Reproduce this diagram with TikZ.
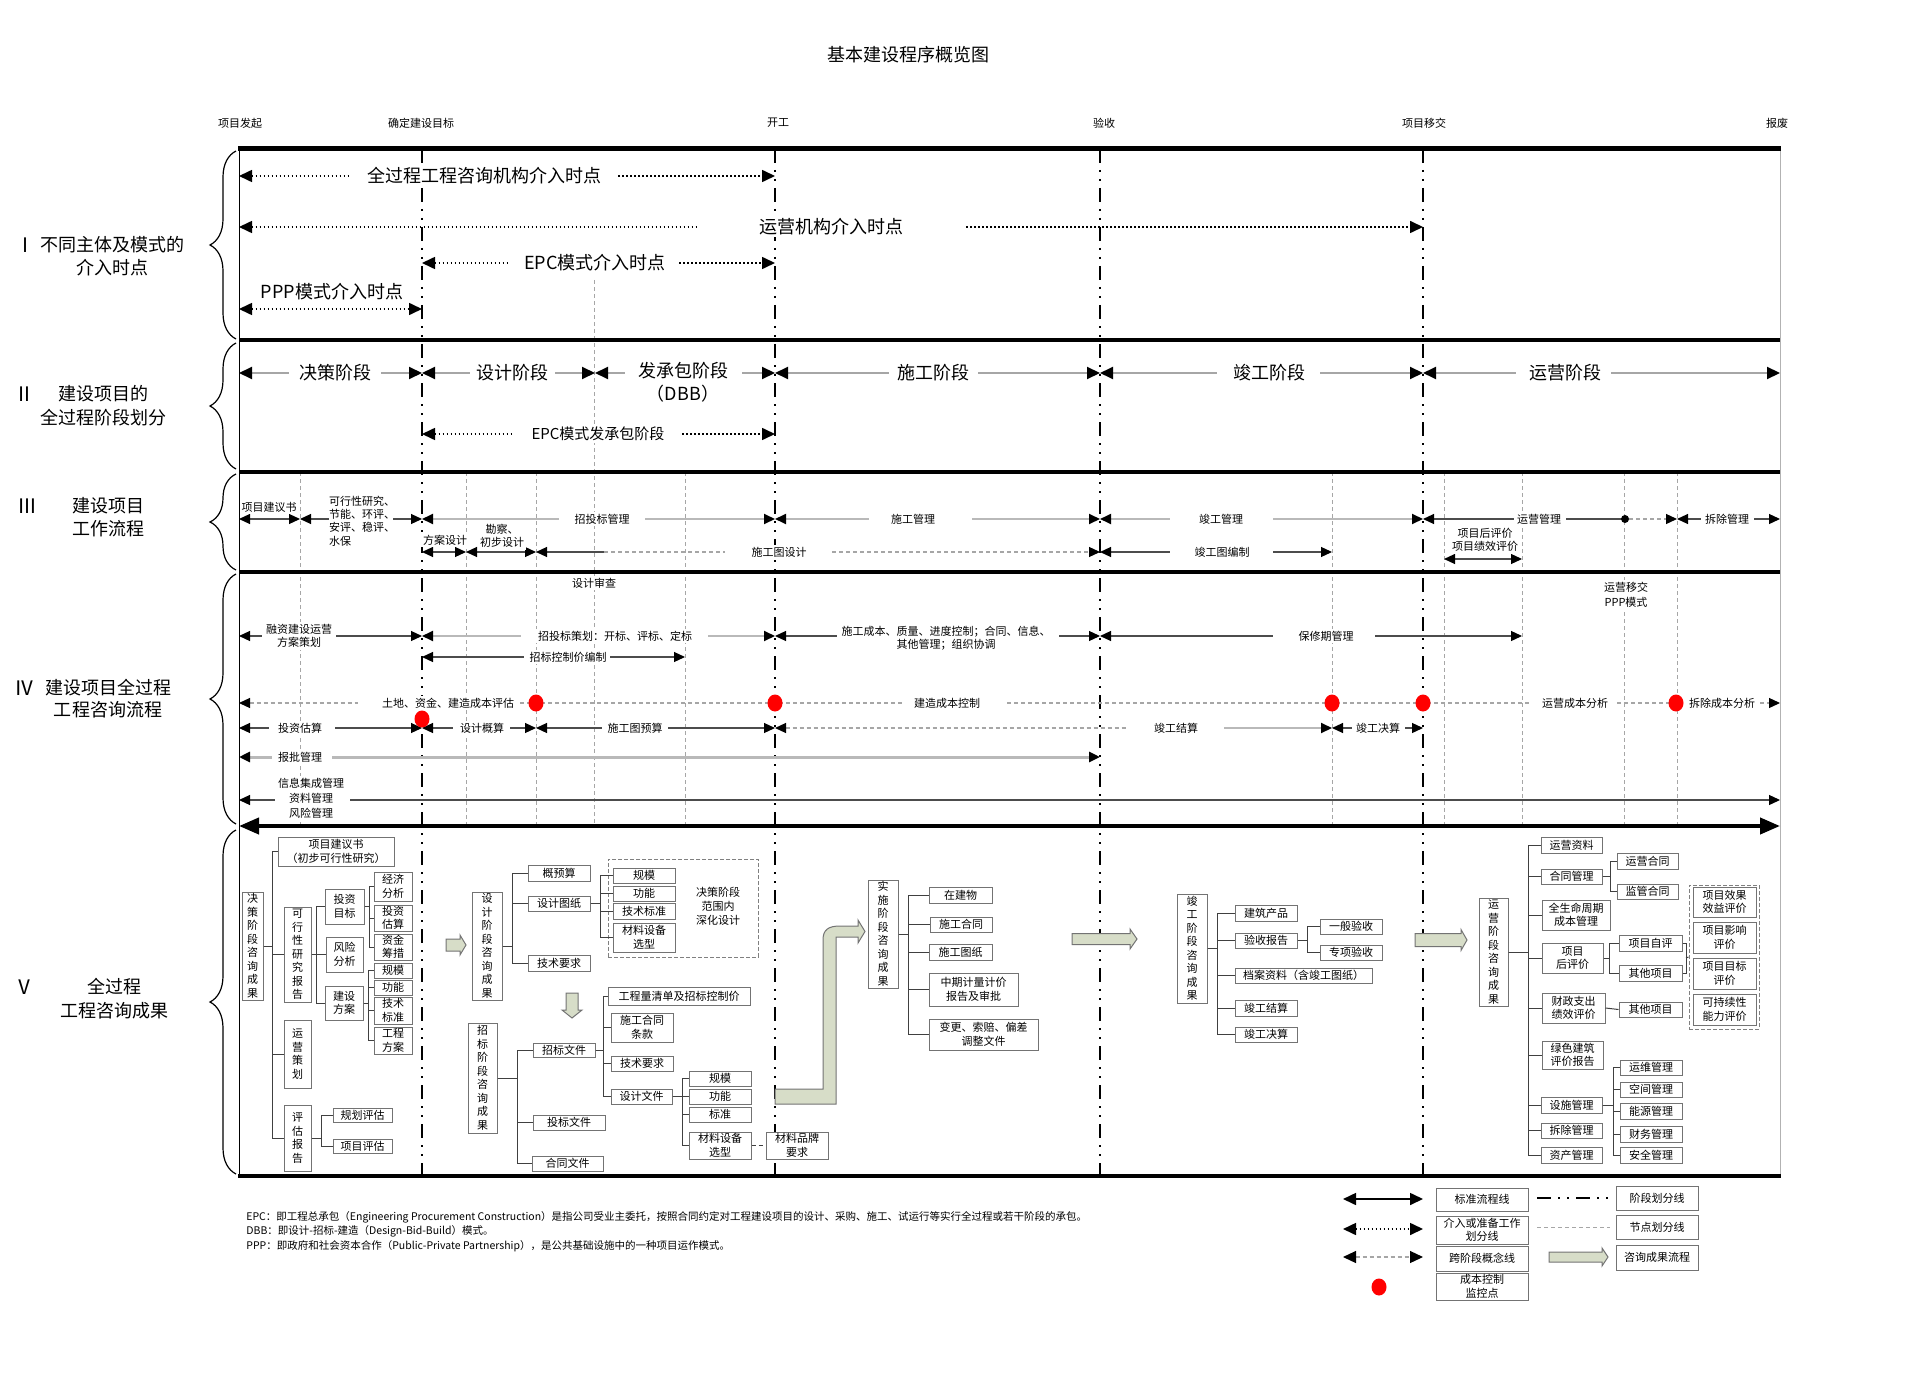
\documentclass[tikz,border=0pt]{standalone}
\usepackage{fontspec}
\setmainfont{Noto Sans CJK SC}
\usetikzlibrary{arrows.meta,shapes.geometric,decorations.pathreplacing}
\definecolor{arrowfill}{RGB}{215,221,200}
\newcommand\fA{\fontsize{9}{11}\selectfont}
\newcommand\fB{\fontsize{7.5}{9}\selectfont}
\newcommand\fC{\fontsize{5.5}{6.6}\selectfont}
\newcommand\fD{\fontsize{5.5}{6.75}\selectfont}
\newcommand\fE{\fontsize{5.25}{7}\selectfont}
\newcommand\gl[8]{\draw[#1,#2-] (#4,#8) -- (#5,#8); \draw[#1,-#3] (#6,#8) -- (#7,#8);}
\newcommand\bx[6]{\node[box,minimum width={0.5pt*(#4-#2)},minimum height={0.5pt*(#5-#3)}] (#1) at ({(#2+#4)/2},{(#3+#5)/2}) {#6};}
\newcommand\rarr[6]{\draw[blk] (#1,{#3-#4}) -- ({#2-#6},{#3-#4}) -- ({#2-#6},{#3-#5}) -- (#2,#3) -- ({#2-#6},{#3+#5}) -- ({#2-#6},{#3+#4}) -- (#1,{#3+#4}) -- cycle;}
\tikzset{
 ST/.tip={Triangle[length=5.5pt,width=5pt,color=black,fill=black]},
 BT/.tip={Triangle[length=6.5pt,width=6pt,color=black,fill=black]},
 HT/.tip={Triangle[length=10pt,width=8pt,color=black,fill=black]},
 ms/.style={line width=1pt, dash pattern=on 7pt off 3.5pt on 1pt off 3.5pt on 1pt off 3.5pt},
 nd/.style={gray!70, line width=0.45pt, dash pattern=on 2pt off 1.5pt},
 dotl/.style={line width=0.8pt, dash pattern=on 0.8pt off 1.2pt},
 glI/.style={gray!70, line width=1pt},
 dk/.style={black!70, line width=0.6pt},
 lt/.style={gray!55, line width=0.9pt},
 dsh/.style={gray!70, line width=0.6pt, dash pattern=on 2pt off 1.5pt},
 lab/.style={fill=white, inner sep=1pt, align=center},
 tA/.style={lab, font=\fA},
 tB/.style={lab, font=\fB},
 tC/.style={lab, font=\fC},
 box/.style={draw=black!55, line width=0.5pt, fill=white, align=center, inner sep=0pt, font=\fD},
 dbox/.style={draw=black!50, line width=0.5pt, dash pattern=on 2pt off 1pt, inner sep=0pt},
 tr/.style={black!75, line width=0.5pt},
 blk/.style={fill=arrowfill, draw=black!55, line width=0.5pt},
 rdot/.style={ellipse, fill=red, inner sep=0pt, minimum width=7.5pt, minimum height=8.5pt},
 brc/.style={decorate, decoration={brace, amplitude=13pt, aspect=0.5}, line width=0.6pt},
}
\begin{document}
\begin{tikzpicture}[x=0.5pt,y=-0.5pt]
\useasboundingbox (0,0) rectangle (1920,1385);
% title and milestones
\node[font=\fA] (title) at (908,55) {基本建设程序概览图};
\foreach \n/\x/\t in {m0/240/项目发起, m1/421/确定建设目标, m2/778/开工, m3/1104/验收, m4/1424/项目移交, m5/1777/报废}
  \node[font=\fC] (\n) at (\x,123) {\t};
% milestone lines and node lines
\foreach \x in {422,775,1100,1423} \draw[ms] (\x,149) -- (\x,1176);
\foreach \x in {300,466,536,685,1332,1444,1522,1624,1677} \draw[nd] (\x,472) -- (\x,826);
\draw[nd] (594,280) -- (594,826);
% frame
\draw[line width=0.5pt] (239,149) -- (239,1176);
\draw[gray!60, line width=0.5pt] (1780,149) -- (1780,1176);
\draw[line width=2.5pt] (238,149) -- (1781,149);
\foreach \y in {340,472,572} \draw[line width=2pt] (239,\y) -- (1780,\y);
\draw[line width=2pt] (238,1176) -- (1781,1176);
\draw[line width=2pt, HT-HT] (239,826) -- (1780,826);
% braces
\draw[brc] (236,339) -- (236,151);
\draw[brc] (236,469) -- (236,343);
\draw[brc] (236,570) -- (236,474);
\draw[brc] (236,824) -- (236,574);
\draw[brc] (236,1174) -- (236,830);
% section labels
\node[font=\fontsize{10}{11}\selectfont] (r1) at (25,245) {Ⅰ};
\node[font=\fA] (s1a) at (112,245) {不同主体及模式的};
\node[font=\fA] (s1b) at (112,268) {介入时点};
\node[font=\fontsize{10}{11}\selectfont] (r2) at (24,394) {Ⅱ};
\node[font=\fA] (s2a) at (103,394) {建设项目的};
\node[font=\fA] (s2b) at (103,418) {全过程阶段划分};
\node[font=\fontsize{10}{11}\selectfont] (r3) at (28,506) {Ⅲ};
\node[font=\fA] (s3a) at (108,506) {建设项目};
\node[font=\fA] (s3b) at (108,529) {工作流程};
\node[font=\fontsize{10}{11}\selectfont] (r4) at (24,688) {Ⅳ};
\node[font=\fA] (s4a) at (108,688) {建设项目全过程};
\node[font=\fA] (s4b) at (108,710) {工程咨询流程};
\node[font=\fontsize{10}{11}\selectfont] (r5) at (24,987) {Ⅴ};
\node[font=\fA] (s5a) at (114,987) {全过程};
\node[font=\fA] (s5b) at (114,1011) {工程咨询成果};
% ===== Section I
\gl{dotl}{BT}{BT}{239}{350}{618}{775}{176}
\node[tA] (a1) at (484,176) {全过程工程咨询机构介入时点};
\gl{dotl}{BT}{BT}{239}{697}{966}{1423}{227}
\node[tA] (a2) at (831,227) {运营机构介入时点};
\gl{dotl}{BT}{BT}{422}{507}{679}{775}{263}
\node[tA] (a3) at (595,263) {EPC模式介入时点};
\draw[dotl,BT-BT] (239,309) -- (422,309);
\node[tA] (a4) at (332,292) {PPP模式介入时点};
% ===== Section II
\gl{glI}{BT}{BT}{239}{289}{381}{422}{373}
\node[tA] (b1) at (335,373) {决策阶段};
\gl{glI}{BT}{BT}{422}{470}{555}{595}{373}
\node[tA] (b2) at (512,373) {设计阶段};
\gl{glI}{BT}{BT}{595}{625}{742}{775}{373}
\node[tA] (b3) at (683,371) {发承包阶段};
\node[tA] (b3b) at (683,394) {（DBB）};
\gl{glI}{BT}{BT}{775}{889}{978}{1100}{373}
\node[tA] (b4) at (933,373) {施工阶段};
\gl{glI}{BT}{BT}{1100}{1217}{1320}{1423}{373}
\node[tA] (b5) at (1269,373) {竣工阶段};
\gl{glI}{BT}{BT}{1423}{1516}{1611}{1780}{373}
\node[tA] (b6) at (1565,373) {运营阶段};
\gl{dotl}{BT}{BT}{422}{513}{682}{775}{434}
\node[tB] (b7) at (598,434) {EPC模式发承包阶段};
% ===== Section III
\draw[dk,ST-ST] (239,519) -- (300,519);
\node[tC] (c1) at (269,507) {项目建议书};
\gl{dk}{ST}{ST}{300}{329}{393}{422}{519}
\node[font=\fC, align=left, inner sep=0pt] (c2) at (362,521) {可行性研究、\\节能、环评、\\安评、稳评、\\水保};
\gl{lt}{ST}{ST}{422}{559}{645}{775}{519}
\node[tC] (c3) at (602,519) {招投标管理};
\gl{lt}{ST}{ST}{775}{869}{972}{1100}{519}
\node[tC] (c4) at (913,519) {施工管理};
\gl{lt}{ST}{ST}{1100}{1170}{1273}{1423}{519}
\node[tC] (c5) at (1221,519) {竣工管理};
\gl{dk}{ST}{}{1423}{1514}{1566}{1625}{519}
\node[tC] (c6) at (1539,519) {运营管理};
\node[circle, fill=black, inner sep=0pt, minimum size=4pt] (bd) at (1625,519) {};
\draw[dsh,-ST] (bd) -- (1677,519);
\gl{dk}{ST}{ST}{1677}{1701}{1754}{1780}{519}
\node[tC] (c7) at (1727,519) {拆除管理};
\draw[dk,ST-ST] (422,552) -- (466,552);
\node[tC] (c8) at (445,540) {方案设计};
\draw[dk,ST-ST] (466,552) -- (536,552);
\node[tC] (c9) at (502,536) {勘察、\\初步设计};
\draw[dk,ST-] (536,552) -- (604,552);
\draw[dsh] (604,552) -- (725,552);
\draw[dsh,-ST] (832,552) -- (1100,552);
\node[tC] (c10) at (779,552) {施工图设计};
\gl{dk}{ST}{ST}{1100}{1170}{1273}{1332}{552}
\node[tC] (c11) at (1222,552) {竣工图编制};
\draw[dk,ST-ST] (1444,559) -- (1522,559);
\node[tC] (c12) at (1485,540) {项目后评价\\项目绩效评价};
% ===== Section IV
\node[tC] (d0) at (594,583) {设计审查};
\node[tC, font=\fontsize{5.5}{7.5}\selectfont] (d00) at (1626,595) {运营移交\\PPP模式};
\gl{dk}{ST}{ST}{239}{262}{336}{422}{636}
\node[tC] (d1) at (299,636) {融资建设运营\\方案策划};
\gl{lt}{ST}{ST}{422}{521}{708}{775}{636}
\node[tC] (d2) at (615,636) {招投标策划：开标、评标、定标};
\gl{dk}{ST}{ST}{775}{837}{1059}{1100}{636}
\node[tC] (d3) at (946,638) {施工成本、质量、进度控制；合同、信息、\\其他管理；组织协调};
\gl{dk}{ST}{ST}{1100}{1273}{1375}{1522}{636}
\node[tC] (d4) at (1326,636) {保修期管理};
\gl{dk}{ST}{ST}{422}{524}{610}{685}{657}
\node[tC] (d5) at (568,657) {招标控制价编制};
\draw[dsh,ST-] (239,703) -- (358,703);
\draw[dsh] (520,703) -- (903,703);
\draw[dsh] (1007,703) -- (1530,703);
\draw[dsh] (1617,703) -- (1683,703);
\draw[dsh,-ST] (1760,703) -- (1780,703);
\node[tC] (d6) at (448,703) {土地、资金、建造成本评估};
\node[tC] (d7) at (947,703) {建造成本控制};
\node[tC] (d8) at (1575,703) {运营成本分析};
\node[tC] (d9) at (1722,703) {拆除成本分析};
\gl{dk}{ST}{ST}{239}{269}{335}{422}{728}
\node[tC] (d10) at (300,728) {投资估算};
\gl{dk}{ST}{ST}{422}{453}{510}{536}{728}
\node[tC] (d11) at (482,728) {设计概算};
\gl{dk}{ST}{ST}{536}{602}{668}{775}{728}
\node[tC] (d12) at (635,728) {施工图预算};
\draw[dsh,ST-] (775,728) -- (1128,728);
\draw[lt,-ST] (1224,728) -- (1332,728);
\node[tC] (d13) at (1176,728) {竣工结算};
\gl{dk}{ST}{ST}{1332}{1352}{1405}{1423}{728}
\node[tC] (d14) at (1378,728) {竣工决算};
\gl{lt,line width=1.5pt}{ST}{ST}{239}{272}{332}{1100}{757}
\node[tC] (d15) at (300,757) {报批管理};
\gl{dk}{ST}{ST}{239}{275}{350}{1780}{800}
\node[tC, font=\fontsize{5.5}{7.5}\selectfont] (d16) at (311,798) {信息集成管理\\资料管理\\风险管理};
\foreach \n/\x/\y in {rd1/536/703, rd2/775/703, rd3/1332/703, rd4/1423/703, rd5/1676/703, rd6/422/719}
  \node[rdot] (\n) at (\x,\y) {};
% ===== Section V : decision
\bx{jc}{242}{892}{263}{1000}{决\\策\\阶\\段\\咨\\询\\成\\果}
\bx{jyb}{278}{837}{394}{866}{项目建议书\\（初步可行性研究）}
\bx{kx}{284}{907}{311}{1002}{可\\行\\性\\研\\究\\报\\告}
\bx{yych}{284}{1020}{311}{1088}{运\\营\\策\\划}
\bx{pgbg}{284}{1105}{311}{1171}{评\\估\\报\\告}
\bx{tzmb}{325}{889}{364}{924}{投资\\目标}
\bx{fxfx}{326}{937}{363}{972}{风险\\分析}
\bx{jsfa}{325}{986}{363}{1020}{建设\\方案}
\bx{jjfx}{374}{872}{412}{901}{经济\\分析}
\bx{tzgs}{374}{905}{412}{931}{投资\\估算}
\bx{zjcc}{374}{934}{412}{960}{资金\\筹措}
\bx{gmA}{374}{963}{412}{978}{规模}
\bx{gnA}{374}{980}{412}{995}{功能}
\bx{jsbzA}{374}{997}{412}{1024}{技术\\标准}
\bx{gcfa}{374}{1027}{412}{1054}{工程\\方案}
\bx{ghpg}{333}{1108}{392}{1122}{规划评估}
\bx{xmpg}{333}{1139}{392}{1153}{项目评估}
\foreach \c in {jyb,kx,yych,pgbg} \draw[tr] (jc.east) -- ++(9,0) |- (\c.west);
\foreach \c in {tzmb,fxfx,jsfa} \draw[tr] (kx.east) -- ++(5,0) |- (\c.west);
\foreach \c in {jjfx,tzgs,zjcc} \draw[tr] (tzmb.east) -- ++(5,0) |- (\c.west);
\foreach \c in {gmA,gnA,jsbzA,gcfa} \draw[tr] (jsfa.east) -- ++(5,0) |- (\c.west);
\foreach \c in {ghpg,xmpg} \draw[tr] (pgbg.east) -- ++(10,0) |- (\c.west);
% design
\draw[blk] (446,939) -- (460,939) -- (460,935) -- (466,945) -- (460,955) -- (460,951) -- (446,951) -- cycle;
\bx{sj}{472}{892}{502}{1000}{设\\计\\阶\\段\\咨\\询\\成\\果}
\node[dbox, minimum width=75pt, minimum height=49pt] (db1) at (683,908) {};
\bx{gys}{528}{865}{590}{881}{概预算}
\bx{sjtz}{528}{896}{590}{911}{设计图纸}
\bx{jsyqA}{528}{955}{590}{971}{技术要求}
\bx{gmB}{613}{868}{675}{883}{规模}
\bx{gnB}{613}{886}{675}{901}{功能}
\bx{jsbzB}{613}{903}{675}{919}{技术标准}
\bx{clsbA}{613}{923}{675}{952}{材料设备\\选型}
\node[font=\fontsize{5.5}{7}\selectfont, align=center] (shsj) at (718,906) {决策阶段\\范围内\\深化设计};
\foreach \c in {gys,sjtz,jsyqA} \draw[tr] (sj.east) -- ++(10,0) |- (\c.west);
\foreach \c in {gmB,gnB,jsbzB,clsbA} \draw[tr] (sjtz.east) -- ++(10,0) |- (\c.west);
% tender
\draw[blk] (566,993) -- (578,993) -- (578,1010) -- (582,1010) -- (572,1018) -- (562,1010) -- (566,1010) -- cycle;
\bx{zb}{468}{1023}{497}{1133}{招\\标\\阶\\段\\咨\\询\\成\\果}
\bx{zbwj}{533}{1043}{595}{1057}{招标文件}
\bx{tbwj}{533}{1115}{605}{1130}{投标文件}
\bx{htwj}{532}{1156}{603}{1171}{合同文件}
\bx{gcl}{608}{987}{750}{1005}{工程量清单及招标控制价}
\bx{sght}{611}{1013}{673}{1042}{施工合同\\条款}
\bx{jsyqB}{611}{1056}{673}{1071}{技术要求}
\bx{sjwj}{611}{1089}{672}{1104}{设计文件}
\bx{gmC}{689}{1071}{751}{1086}{规模}
\bx{gnC}{689}{1089}{751}{1104}{功能}
\bx{bzC}{689}{1107}{751}{1122}{标准}
\bx{clsbB}{689}{1132}{751}{1159}{材料设备\\选型}
\bx{clpp}{766}{1132}{828}{1159}{材料品牌\\要求}
\foreach \c in {zbwj,tbwj,htwj} \draw[tr] (zb.east) -- ++(20,0) |- (\c.west);
\foreach \c in {gcl,sght,jsyqB,sjwj} \draw[tr] (zbwj.east) -- ++(8,0) |- (\c.west);
\foreach \c in {gmC,gnC,bzC,clsbB} \draw[tr] (sjwj.east) -- ++(10,0) |- (\c.west);
\draw[tr, dash pattern=on 2pt off 1.5pt] (clsbB.east) -- (clpp.west);
% L arrow
\draw[blk] (775,1089) -- (823,1089) -- (823,940) .. controls (823,930) and (828,926) .. (840,926) -- (858,926) -- (858,920) -- (865,931.5) -- (858,943) -- (858,937) -- (836,937) -- (836,1104) -- (775,1104) -- cycle;
% implementation
\bx{ss}{868}{880}{898}{988}{实\\施\\阶\\段\\咨\\询\\成\\果}
\bx{zjw}{929}{887}{992}{903}{在建物}
\bx{sghtB}{930}{917}{992}{932}{施工合同}
\bx{sgtz}{929}{944}{992}{960}{施工图纸}
\bx{zqjl}{929}{973}{1018}{1006}{中期计量计价\\报告及审批}
\bx{bgsp}{929}{1019}{1038}{1050}{变更、索赔、偏差\\调整文件}
\foreach \c in {zjw,sghtB,sgtz,zqjl,bgsp} \draw[tr] (ss.east) -- ++(10,0) |- (\c.west);
\rarr{1072}{1137}{939}{5.5}{10}{7}
% completion
\bx{jg}{1177}{894}{1207}{1003}{竣\\工\\阶\\段\\咨\\询\\成\\果}
\bx{jzcp}{1235}{905}{1297}{921}{建筑产品}
\bx{ysbg}{1235}{933}{1297}{948}{验收报告}
\bx{ybys}{1320}{919}{1382}{934}{一般验收}
\bx{zxys}{1320}{945}{1382}{960}{专项验收}
\bx{dazl}{1235}{968}{1372}{983}{档案资料（含竣工图纸）}
\bx{jgjs}{1235}{1000}{1297}{1016}{竣工结算}
\bx{jgjsB}{1235}{1027}{1297}{1042}{竣工决算}
\foreach \c in {jzcp,ysbg,dazl,jgjs,jgjsB} \draw[tr] (jg.east) -- ++(10,0) |- (\c.west);
\foreach \c in {ybys,zxys} \draw[tr] (ysbg.east) -- ++(10,0) |- (\c.west);
\rarr{1415}{1467}{940}{6.5}{10.5}{6}
% operation
\bx{yyb}{1479}{898}{1508}{1006}{运\\营\\阶\\段\\咨\\询\\成\\果}
\node[dbox, minimum width=35pt, minimum height=72pt] (db2) at (1724,957) {};
\bx{yyzl}{1541}{837}{1602}{853}{运营资料}
\bx{htgl}{1541}{869}{1602}{884}{合同管理}
\bx{yyht}{1617}{853}{1678}{869}{运营合同}
\bx{jght}{1617}{884}{1678}{899}{监管合同}
\bx{qsm}{1542}{900}{1610}{930}{全生命周期\\成本管理}
\bx{xmhpj}{1542}{943}{1603}{973}{项目\\后评价}
\bx{xmzp}{1619}{935}{1682}{951}{项目自评}
\bx{qtxmA}{1619}{965}{1682}{981}{其他项目}
\bx{xmxg}{1693}{887}{1756}{917}{项目效果\\效益评价}
\bx{xmyx}{1693}{922}{1756}{953}{项目影响\\评价}
\bx{xmmb}{1693}{958}{1756}{989}{项目目标\\评价}
\bx{kcx}{1693}{994}{1756}{1025}{可持续性\\能力评价}
\bx{czzc}{1542}{993}{1605}{1023}{财政支出\\绩效评价}
\bx{qtxmB}{1619}{1002}{1682}{1017}{其他项目}
\bx{lsjz}{1542}{1041}{1603}{1069}{绿色建筑\\评价报告}
\bx{ssgl}{1541}{1097}{1602}{1113}{设施管理}
\bx{ccgl}{1541}{1123}{1602}{1138}{拆除管理}
\bx{zcgl}{1541}{1147}{1602}{1163}{资产管理}
\bx{ywgl}{1620}{1060}{1682}{1075}{运维管理}
\bx{kjgl}{1620}{1082}{1682}{1097}{空间管理}
\bx{nygl}{1620}{1103}{1682}{1119}{能源管理}
\bx{cwgl}{1620}{1126}{1682}{1142}{财务管理}
\bx{aqgl}{1620}{1147}{1682}{1163}{安全管理}
\foreach \c in {yyzl,htgl,qsm,xmhpj,czzc,lsjz,ssgl,ccgl,zcgl} \draw[tr] (yyb.east) -- ++(20,0) |- (\c.west);
\foreach \c in {yyht,jght} \draw[tr] (htgl.east) -- ++(8,0) |- (\c.west);
\foreach \c in {xmzp,qtxmA} \draw[tr] (xmhpj.east) -- ++(6,0) |- (\c.west);
\draw[tr] (czzc.east) -- (qtxmB.west);
\foreach \c in {ywgl,kjgl,nygl,cwgl,aqgl} \draw[tr] (ssgl.east) -- ++(11,0) |- (\c.west);
\draw[tr] (xmzp.east) -- ++(4,0) |- (qtxmA.east);
\draw[tr] (1686,958) -- (db2.west);
% ===== Legend
\bx{lg1}{1436}{1188}{1528}{1211}{标准流程线}
\bx{lg2}{1436}{1216}{1528}{1244}{介入或准备工作\\划分线}
\bx{lg3}{1436}{1246}{1528}{1271}{跨阶段概念线}
\bx{lg4}{1436}{1273}{1528}{1300}{成本控制\\监控点}
\bx{lg5}{1616}{1186}{1698}{1210}{阶段划分线}
\bx{lg6}{1616}{1215}{1698}{1239}{节点划分线}
\bx{lg7}{1616}{1245}{1698}{1270}{咨询成果流程}
\draw[line width=0.8pt,BT-BT] (1343,1199) -- (1423,1199);
\draw[dotl,BT-BT] (1343,1229) -- (1423,1229);
\draw[dsh,BT-BT] (1343,1257) -- (1423,1257);
\node[rdot] (lgd) at (1379,1287) {};
\draw[ms] (1537,1198) -- (1610,1198);
\draw[nd] (1537,1227) -- (1610,1227);
\rarr{1549}{1608}{1257}{5}{9}{6}
% ===== Footnotes
\node[anchor=west, font=\fE, inner sep=0pt] (fn1) at (246,1217) {EPC：即工程总承包（Engineering Procurement Construction）是指公司受业主委托，按照合同约定对工程建设项目的设计、采购、施工、试运行等实行全过程或若干阶段的承包。};
\node[anchor=west, font=\fE, inner sep=0pt] (fn2) at (246,1231) {DBB：即设计-招标-建造（Design-Bid-Build）模式。};
\node[anchor=west, font=\fE, inner sep=0pt] (fn3) at (246,1246) {PPP：即政府和社会资本合作（Public-Private Partnership），是公共基础设施中的一种项目运作模式。};
\end{tikzpicture}
\end{document}
